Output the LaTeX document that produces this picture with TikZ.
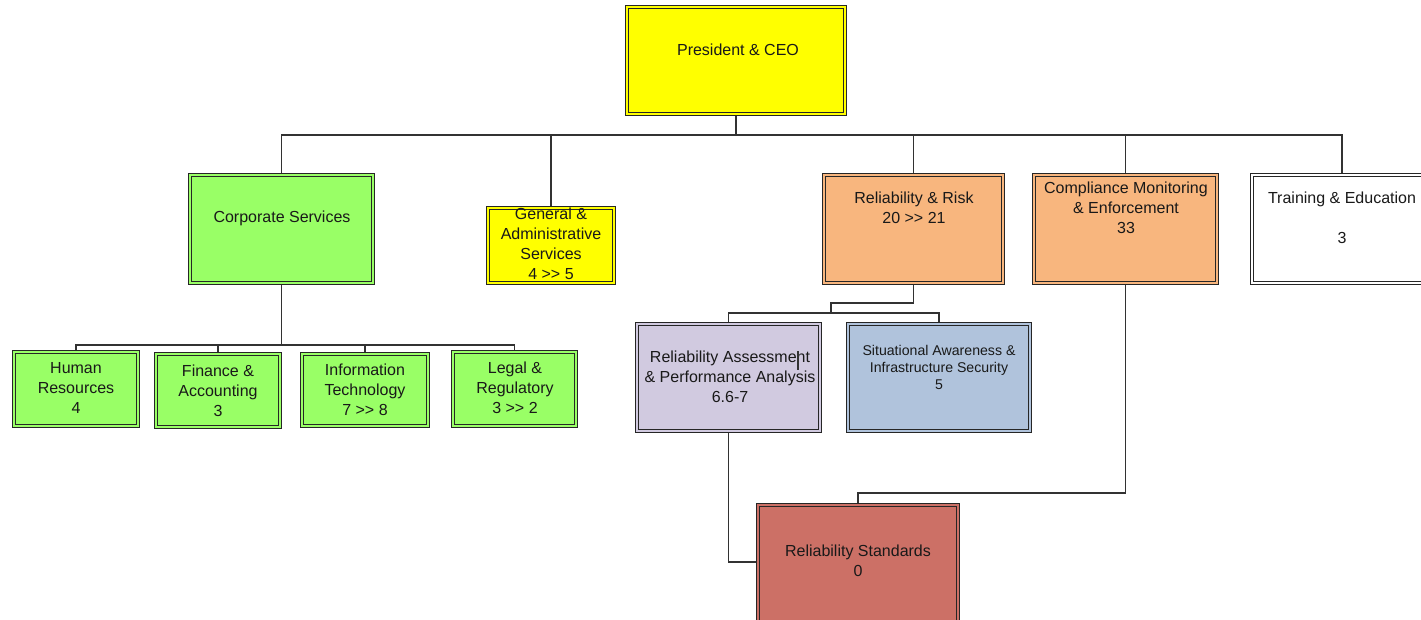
\documentclass[tikz,border=0pt]{standalone}
\usepackage{fontspec}
\setmainfont{Liberation Sans}
\usetikzlibrary{fit}
\pgfdeclarelayer{background}
\pgfsetlayers{background,main}

\definecolor{ceoyellow}{RGB}{255,255,0}
\definecolor{corpgreen}{RGB}{153,255,102}
\definecolor{riskorange}{RGB}{248,182,126}
\definecolor{assesslilac}{RGB}{209,202,224}
\definecolor{steelblue}{RGB}{176,195,220}
\definecolor{stdred}{RGB}{204,112,102}
\definecolor{linegray}{RGB}{50,50,50}

% two plain ">" signs, kept apart from the TeX ligature mapping
\newcommand\growsto{>\kern0pt>}

\tikzset{
  box/.style={rectangle, inner sep=0pt, draw=black!85, line width=0.75pt, double distance=1.5pt},
  tone/.style={fill=#1, double=#1},
  boxtext/.style={align=center, inner sep=0pt, text=black!90, font=\fontsize{12pt}{15pt}\selectfont},
  smalltext/.style={boxtext, font=\fontsize{10.6pt}{12.75pt}\selectfont},
  conn/.style={draw=linegray, line width=0.9pt},
}

\begin{document}
\begin{tikzpicture}[x=0.75pt, y=-0.75pt]
\useasboundingbox (0,0) rectangle (1421,619);

% top level
\node[box, tone=ceoyellow, fit={(627,7) (845,114)}] (ceo) {};

% second level
\node[box, tone=corpgreen,   fit={(190,175) (373,283)}]  (corp) {};
\node[box, tone=ceoyellow,   fit={(488,208) (614,283)}]  (gas)  {};
\node[box, tone=riskorange,  fit={(824,175) (1003,283)}] (rr)   {};
\node[box, tone=riskorange,  fit={(1034,175) (1217,283)}] (cme) {};
\node[box, tone=white,       fit={(1252,175) (1432,283)}] (te)  {};

% corporate services units
\node[box, tone=corpgreen, fit={(14,352) (138,426)}]  (hr) {};
\node[box, tone=corpgreen, fit={(156,354) (280,427)}] (fa) {};
\node[box, tone=corpgreen, fit={(302,354) (428,426)}] (it) {};
\node[box, tone=corpgreen, fit={(453,352) (576,426)}] (lr) {};

% reliability & risk units
\node[box, tone=assesslilac, fit={(637,324) (820,431)}]  (rapa) {};
\node[box, tone=steelblue,   fit={(848,324) (1030,431)}] (sais) {};

% standards
\node[box, tone=stdred, fit={(758,505) (958,640)}] (rs) {};

% labels
\node[boxtext] (t-ceo)  at (738,50)  {President \& CEO};
\node[boxtext] (t-corp) at (282,218) {Corporate Services};
\node[boxtext] (t-gas)  at (551,244) {General \&\\Administrative\\Services\\4 \growsto{} 5};
\node[boxtext] (t-rr)   at (914,208) {Reliability \& Risk\\20 \growsto{} 21};
\node[boxtext] (t-cme)  at (1126,208) {Compliance Monitoring\\\& Enforcement\\33};
\node[boxtext] (t-te)   at (1342,218) {Training \& Education\\[15pt]3};
\node[boxtext] (t-hr)   at (76,388)  {Human\\Resources\\4};
\node[boxtext] (t-fa)   at (218,391) {Finance \&\\Accounting\\3};
\node[boxtext] (t-it)   at (365,390) {Information\\Technology\\7 \growsto{} 8};
\node[boxtext] (t-lr)   at (515,388) {Legal \&\\Regulatory\\3 \growsto{} 2};
\node[boxtext] (t-rapa) at (730,377) {Reliability Assessment\\\& Performance Analysis\\6.6-7};
\node[smalltext] (t-sais) at (939,367) {Situational Awareness \&\\Infrastructure Security\\5};
\node[boxtext] (t-rs)   at (858,561) {Reliability Standards\\0};

% text cursor left in the label
\draw[black!80, line width=0.8pt] (798,351) -- (798,370);

% bus levels
\coordinate (bus1) at (0,135);
\coordinate (bus2) at (0,345);
\coordinate (jog)  at (831,303);
\coordinate (bus3) at (0,313);
\coordinate (bus4) at (0,493);
\coordinate (rsin) at (0,562);

\begin{pgfonlayer}{background}
  % president to second level
  \draw[conn] (ceo.south) -- (ceo.south |- bus1);
  \draw[conn] (corp.north) |- (te.north |- bus1) -- (te.north);
  \draw[conn] (gas.north)  -- (gas.north |- bus1);
  \draw[conn] (rr.north)   -- (rr.north |- bus1);
  \draw[conn] (cme.north)  -- (cme.north |- bus1);
  % corporate services to units
  \draw[conn] (corp.south) -- (corp.south |- bus2);
  \draw[conn] (hr.north) |- (lr.north |- bus2) -- (lr.north);
  \draw[conn] (fa.north) -- (fa.north |- bus2);
  \draw[conn] (it.north) -- (it.north |- bus2);
  % reliability & risk to units
  \draw[conn] (rr.south) |- (jog) -- (jog |- bus3);
  \draw[conn] (rapa.north) |- (sais.north |- bus3) -- (sais.north);
  % links into reliability standards
  \draw[conn] (rapa.south) |- (rs.west |- rsin);
  \draw[conn] (cme.south) |- (rs.north |- bus4) -- (rs.north);
\end{pgfonlayer}
\end{tikzpicture}
\end{document}
